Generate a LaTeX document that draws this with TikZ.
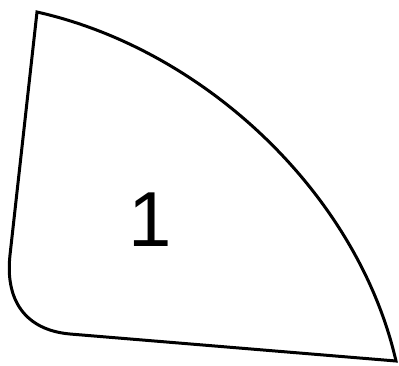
\documentclass[tikz,border=0pt]{standalone}
\usepackage{fontspec}
\setmainfont{Liberation Sans}
\usepackage{tikz}

\begin{document}
\begin{tikzpicture}[
  x=1pt, y=-1pt,
  outline/.style={draw=black, line width=3pt, line join=miter},
  label/.style={font=\fontsize{78}{80}\selectfont, inner sep=0pt}
]
  \useasboundingbox (0,0) rectangle (399,365);

  % corner points of the region
  \coordinate (top) at (37,12);
  \coordinate (left) at (10,255);
  \coordinate (bottom) at (70,334);
  \coordinate (tip) at (396,361);

  \draw[outline] (top) -- (left)
    .. controls (5,300) and (25,330) .. (bottom)
    -- (tip)
    .. controls (358,195) and (206,50) .. cycle;

  \node[label] (region1) at (150,220) {1};
\end{tikzpicture}
\end{document}
